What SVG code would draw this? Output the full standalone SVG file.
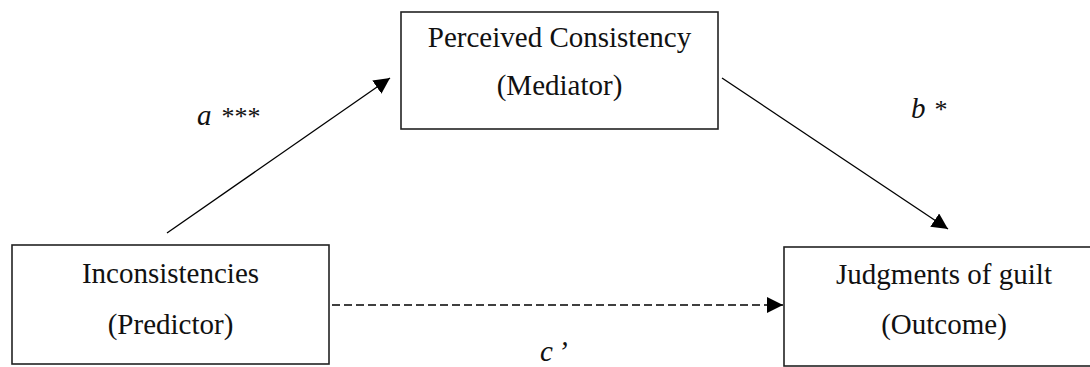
<svg xmlns="http://www.w3.org/2000/svg" width="1090" height="367" viewBox="0 0 1090 367">
<style>
.box{fill:#fff;stroke:#222;stroke-width:1.6}
.t{font-family:"Liberation Serif","Times New Roman",serif;font-size:29px;fill:#111;text-anchor:middle}
.lab{font-family:"Liberation Serif","Times New Roman",serif;font-size:29px;fill:#111;font-style:italic}
.ast{font-family:"Liberation Serif","Times New Roman",serif;font-size:26px;fill:#111}
.ln{stroke:#000;stroke-width:1.3;fill:none}
</style>
<defs>
<marker id="ah" viewBox="0 0 10 10" refX="10" refY="5" markerWidth="16" markerHeight="16" markerUnits="userSpaceOnUse" orient="auto">
<path d="M0,0 L10,5 L0,10 Z" fill="#000"/>
</marker>
</defs>
<rect width="1090" height="367" fill="#fff"/>
<g id="connectors">
<line class="ln" x1="167" y1="233" x2="390" y2="78" marker-end="url(#ah)"/>
<line class="ln" x1="722" y1="78" x2="948" y2="229" marker-end="url(#ah)"/>
<line class="ln" x1="332" y1="305" x2="783" y2="305" stroke-dasharray="8,4" marker-end="url(#ah)"/>
</g>
<g id="mediator">
<rect class="box" x="401" y="12" width="317" height="117"/>
<text class="t" x="559.5" y="47">Perceived Consistency</text>
<text class="t" x="559.5" y="95">(Mediator)</text>
</g>
<g id="predictor">
<rect class="box" x="12" y="245" width="317" height="119"/>
<text class="t" x="170.5" y="283">Inconsistencies</text>
<text class="t" x="170.5" y="334">(Predictor)</text>
</g>
<g id="outcome">
<rect class="box" x="784" y="247" width="320" height="119"/>
<text class="t" x="944" y="284">Judgments of guilt</text>
<text class="t" x="944" y="334">(Outcome)</text>
</g>
<g id="labels">
<text x="197" y="125"><tspan class="lab">a</tspan><tspan class="ast" dx="10">***</tspan></text>
<text x="911" y="118"><tspan class="lab">b</tspan><tspan class="ast" dx="9">*</tspan></text>
<text x="540" y="361"><tspan class="lab">c</tspan><tspan class="lab" dx="5">’</tspan></text>
</g>
</svg>
